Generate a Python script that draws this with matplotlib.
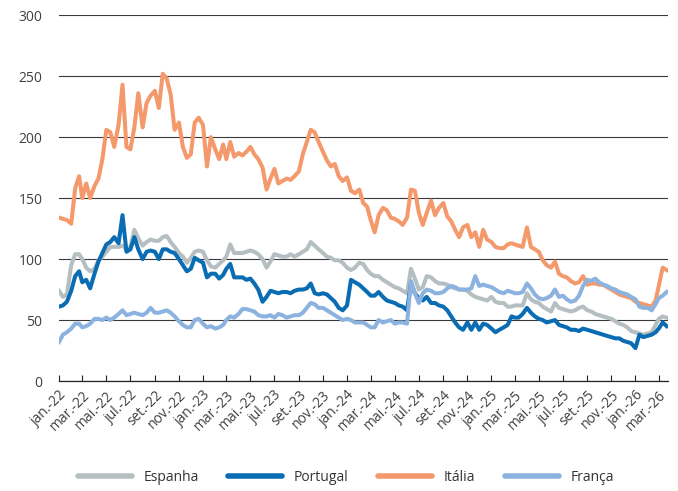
import pandas as pd
import matplotlib.pyplot as plt

plt.rcParams['font.family'] = ['Open Sans', 'DejaVu Sans']

# observation dates: 1st, 11th and 21st of each month, jan-22 .. mar-26
months = pd.date_range('2022-01-01', '2026-03-01', freq='MS')
dates = [m + pd.Timedelta(days=d) for m in months for d in (0, 10, 20)]

italia = [134, 133, 132, 129, 158, 168, 150, 162, 150, 160, 166, 182, 206, 204, 192, 210,
          243, 192, 190, 208, 236, 208, 228, 234, 238, 224, 252, 248, 235, 206, 212, 192,
          183, 186, 212, 216, 210, 176, 200, 190, 182, 194, 182, 196, 184, 187, 185, 188,
          192, 186, 182, 175, 157, 166, 174, 162, 164, 166, 165, 168, 172, 186, 196, 206,
          204, 196, 188, 181, 176, 178, 168, 164, 167, 156, 154, 157, 146, 143, 132, 122,
          136, 142, 140, 134, 133, 131, 128, 134, 157, 156, 138, 128, 138, 148, 136, 142,
          146, 135, 131, 124, 118, 126, 128, 118, 122, 110, 124, 116, 114, 110, 109, 109,
          112, 113, 112, 111, 110, 126, 110, 108, 106, 99, 95, 93, 98, 88, 86, 85,
          82, 80, 81, 86, 79, 80, 80, 79, 79, 77, 75, 73, 71, 70, 69, 68,
          65, 64, 63, 62, 61, 66, 78, 93, 91]

portugal = [61, 62, 65, 74, 86, 90, 81, 83, 76, 88, 98, 105, 112, 114, 118, 113,
            136, 106, 108, 118, 108, 100, 106, 107, 106, 100, 108, 108, 106, 105, 100, 95,
            90, 92, 101, 99, 97, 85, 88, 88, 84, 87, 92, 96, 85, 85, 85, 83,
            84, 80, 75, 65, 69, 74, 73, 72, 73, 73, 72, 74, 75, 75, 76, 80,
            72, 71, 72, 71, 68, 65, 60, 58, 62, 83, 81, 79, 76, 73, 70, 70,
            73, 69, 66, 65, 64, 62, 61, 58, 80, 72, 68, 66, 69, 64, 64, 62,
            61, 58, 53, 48, 44, 42, 48, 42, 48, 42, 47, 46, 43, 40, 42, 44,
            46, 53, 52, 52, 55, 60, 56, 53, 51, 50, 48, 49, 50, 46, 45, 44,
            42, 42, 41, 43, 42, 41, 40, 39, 38, 37, 36, 35, 35, 33, 32, 31,
            27, 38, 36, 37, 38, 40, 43, 48, 45]

espanha = [74, 69, 71, 95, 104, 104, 100, 93, 90, 92, 99, 102, 106, 110, 110, 110,
           111, 108, 110, 124, 117, 111, 114, 116, 115, 115, 118, 119, 114, 110, 105, 102,
           97, 101, 106, 107, 106, 99, 94, 93, 96, 99, 102, 112, 105, 105, 105, 106,
           107, 106, 104, 100, 93, 98, 104, 103, 102, 102, 104, 102, 104, 106, 108, 114,
           111, 108, 105, 102, 101, 99, 99, 97, 93, 91, 93, 97, 96, 91, 88, 86,
           86, 83, 81, 79, 77, 76, 74, 72, 92, 84, 75, 77, 86, 85, 82, 80,
           80, 79, 77, 76, 75, 75, 74, 71, 69, 68, 67, 66, 69, 65, 64, 64,
           61, 61, 62, 62, 62, 72, 67, 65, 64, 61, 59, 57, 64, 60, 59, 58,
           57, 58, 60, 61, 58, 57, 55, 54, 53, 52, 51, 49, 47, 46, 44, 41,
           40, 39, 38, 39, 40, 46, 51, 53, 52]

franca = [32, 38, 40, 43, 47, 47, 44, 45, 47, 51, 51, 50, 52, 50, 52, 55,
          58, 54, 55, 56, 55, 54, 56, 60, 56, 56, 57, 58, 56, 53, 49, 46,
          44, 44, 50, 51, 47, 44, 45, 43, 44, 46, 50, 53, 52, 55, 59, 59,
          58, 57, 54, 53, 53, 54, 52, 55, 54, 52, 53, 54, 54, 56, 60, 64,
          63, 60, 60, 58, 56, 54, 52, 50, 51, 50, 48, 48, 48, 46, 44, 44,
          50, 48, 49, 50, 47, 48, 48, 47, 82, 72, 64, 72, 75, 74, 72, 72,
          73, 76, 78, 77, 75, 75, 75, 76, 86, 78, 79, 78, 77, 75, 73, 72,
          74, 73, 72, 72, 73, 80, 76, 71, 68, 67, 68, 70, 75, 69, 70, 67,
          65, 66, 70, 78, 83, 82, 84, 81, 79, 78, 76, 75, 73, 72, 71, 69,
          67, 61, 60, 60, 58, 63, 68, 70, 73]

series = [('Espanha', espanha, '#b5bfc1'),
          ('Portugal', portugal, '#0a6db3'),
          ('Itália', italia, '#f4996b'),
          ('França', franca, '#8cb3e0')]

tick_months = ['jan.', 'mar.', 'mai.', 'jul.', 'set.', 'nov.']
tick_dates = pd.date_range('2022-01-01', '2026-03-01', freq='2MS')
tick_labels = [f'{tick_months[(d.month - 1) // 2]}-{d.year % 100}' for d in tick_dates]

fig = plt.figure(figsize=(6.78, 4.91), dpi=100)
ax = fig.add_axes([0.087, 0.224, 0.898, 0.745])

for name, vals, col in series:
    ax.plot(dates, vals, color=col, lw=2.9, label=name, solid_joinstyle='round')

ax.set_ylim(0, 300)
ax.set_yticks(range(0, 301, 50))
ax.set_xlim(pd.Timestamp('2022-01-01'), pd.Timestamp('2026-03-24'))
ax.grid(axis='y', color='#3a3a3a', lw=0.8)
ax.set_axisbelow(True)

ax.set_xticks(tick_dates)
ax.set_xticklabels(tick_labels, rotation=45, ha='right', rotation_mode='anchor')
ax.tick_params(axis='x', direction='in', length=4, width=0.8, color='#222222',
               labelsize=10, labelcolor='#404040', pad=5)
ax.tick_params(axis='y', length=0, labelsize=10, labelcolor='#404040', pad=12)

for side in ['left', 'right', 'top']:
    ax.spines[side].set_visible(False)
ax.spines['bottom'].set_color('#222222')
ax.spines['bottom'].set_linewidth(0.9)

leg = fig.legend(loc='center', bbox_to_anchor=(0.51, 0.027), ncol=4, frameon=False,
                 handlelength=3.9, columnspacing=2.1, handletextpad=0.85,
                 fontsize=10, labelcolor='#333333')
for line in leg.get_lines():
    line.set_linewidth(4.0)
    line.set_solid_capstyle('round')

plt.savefig('out.png', dpi=100)
